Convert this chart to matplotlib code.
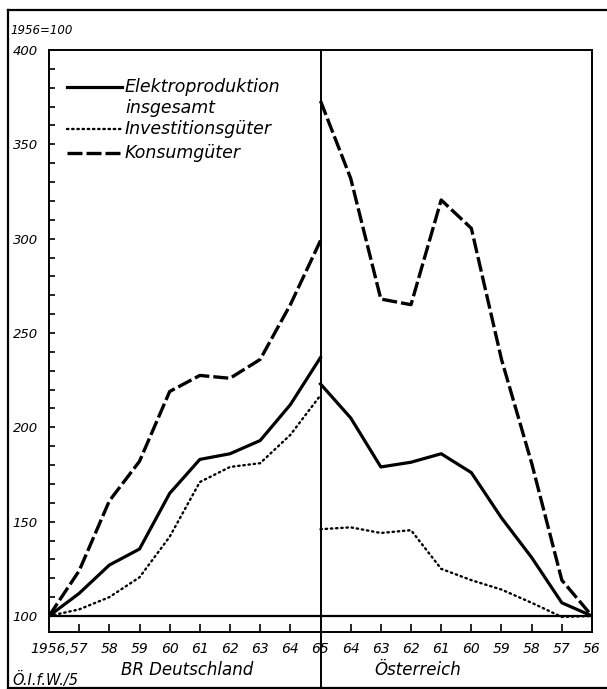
import matplotlib
matplotlib.use("Agg")
import matplotlib.pyplot as plt
import matplotlib.transforms as mtransforms
from matplotlib.lines import Line2D

# ---- data ----
years_de = [1956, 1957, 1958, 1959, 1960, 1961, 1962, 1963, 1964, 1965]
de_elektro = [100, 112, 127, 135.5, 165, 183, 186, 193, 212, 237]
de_invest = [100, 103.5, 110, 120.5, 142, 171, 179, 181, 196, 217]
de_konsum = [100, 124, 161, 182, 219, 227.5, 226, 236, 265, 299]

years_at = [1965, 1964, 1963, 1962, 1961, 1960, 1959, 1958, 1957, 1956]
at_elektro = [223, 205, 179, 181.5, 186, 176, 152, 131, 107, 100]
at_invest = [146, 147, 144, 145.5, 125, 119, 114, 107, 99.5, 100]
at_konsum = [373, 332, 268, 265, 320.5, 305.5, 236, 181, 119, 100]

xlabels_de = ["1956,57", "58", "59", "60", "61", "62", "63", "64"]
xlabels_at = ["65", "64", "63", "62", "61", "60", "59", "58", "57", "56"]
series_labels = ["Elektroproduktion\ninsgesamt", "Investitionsgüter", "Konsumgüter"]

# ---- positions along the mirrored axis ----
x_de = [y - 1956 for y in years_de]          # 0..9
x_at = [9 + (1965 - y) for y in years_at]    # 9..18

W, H = 607, 689
fig = plt.figure(figsize=(W / 100, H / 100), dpi=100)
ax = fig.add_axes([49 / W, 1 - 632 / H, (592 - 49) / W, (632 - 50) / H])

ital = dict(family="DejaVu Sans", style="italic", color="black")

style_el = dict(color="black", lw=2.3, solid_joinstyle="round")
style_in = dict(color="black", lw=1.7, linestyle=(0, (0.6, 1.6)), dash_capstyle="round")
style_ko = dict(color="black", lw=2.4, linestyle=(0, (4.5, 1.2)))

ax.plot(x_de, de_konsum, **style_ko)
ax.plot(x_at, at_konsum, **style_ko)
ax.plot(x_de, de_elektro, **style_el)
ax.plot(x_at, at_elektro, **style_el)
ax.plot(x_de, de_invest, **style_in)
ax.plot(x_at, at_invest, **style_in)

ax.set_xlim(0, 18)
ax.set_ylim(100 - 16 / 1.887, 400)

# baseline at 100
ax.axhline(100, color="black", lw=1.6)

# center divider extending to bottom of figure
trans = mtransforms.blended_transform_factory(ax.transData, ax.transAxes)
ax.plot([9, 9], [-0.1, 1], color="black", lw=1.4, transform=trans, clip_on=False)

for sp in ax.spines.values():
    sp.set_linewidth(1.4)

# y ticks
ax.set_yticks(range(100, 401, 50))
ax.set_yticks(range(100, 401, 10), minor=True)
ax.set_yticklabels([str(v) for v in range(100, 401, 50)], fontsize=9.5, **ital)
ax.tick_params(axis="y", which="both", direction="in", length=4, width=1.2, pad=8)

# x ticks (small marks only)
xt = [i for i in range(1, 18) if i != 9]
ax.set_xticks(xt)
ax.tick_params(axis="x", direction="in", length=6, width=1.2, labelbottom=False)

# x labels
label_y = -(649 - 632) / (632 - 50)
ax.text(1.3, label_y, xlabels_de[0], transform=trans, ha="right", va="center", fontsize=10, **ital)
for i, lab in enumerate(xlabels_de[1:]):
    ax.text(2 + i, label_y, lab, transform=trans, ha="center", va="center", fontsize=10, **ital)
for i, lab in enumerate(xlabels_at):
    ax.text(9 + i, label_y, lab, transform=trans, ha="center", va="center", fontsize=10, **ital)

# region labels
fig.text(187 / W, 1 - 670 / H, "BR Deutschland", ha="center", va="center", fontsize=12, **ital)
fig.text(418 / W, 1 - 670 / H, "Österreich", ha="center", va="center", fontsize=12, **ital)
fig.text(12 / W, 1 - 680 / H, "Ö.I.f.W./5", ha="left", va="center", fontsize=10.5, **ital)
fig.text(10 / W, 1 - 30 / H, "1956=100", ha="left", va="center", fontsize=8.5, **ital)

# legend (manual)
def fx(px):
    return (px - 49) / (592 - 49)

def fy(py):
    return (632 - py) / (632 - 50)

leg = [(87, style_el, series_labels[0]), (129, style_in, series_labels[1]), (153, style_ko, series_labels[2])]
for py, st, lab in leg:
    ax.plot([fx(67), fx(122)], [fy(py), fy(py)], transform=ax.transAxes, **st)
    ax.text(fx(125), fy(py), lab.split("\n")[0], transform=ax.transAxes, ha="left",
            va="center", fontsize=12.5, **ital)
    if "\n" in lab:
        ax.text(fx(125), fy(108), lab.split("\n")[1], transform=ax.transAxes, ha="left",
                va="center", fontsize=12.5, **ital)

# outer frame
fig.add_artist(Line2D([8 / W, 1], [1 - 10 / H, 1 - 10 / H], color="black", lw=1.6))
fig.add_artist(Line2D([8 / W, 8 / W], [1 - 10 / H, 1 - 688 / H], color="black", lw=1.6))
fig.add_artist(Line2D([8 / W, 1], [1 - 688 / H, 1 - 688 / H], color="black", lw=1.6))

fig.savefig("out.png", dpi=100)
